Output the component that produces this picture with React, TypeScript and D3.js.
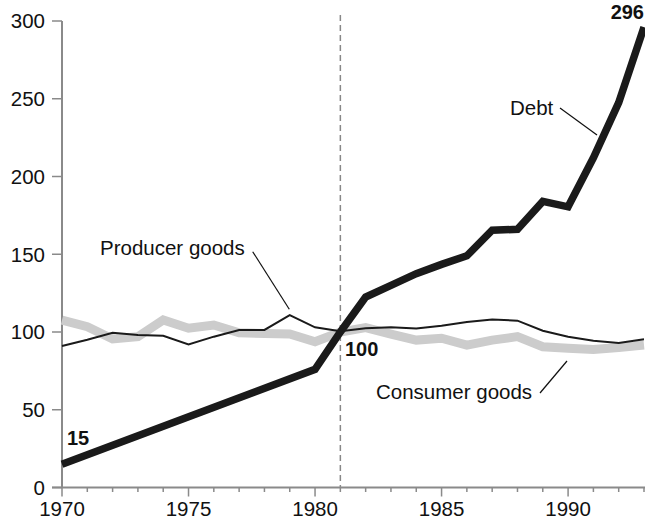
import React from "react";
import * as d3 from "d3";

const years = [1970,1971,1972,1973,1974,1975,1976,1977,1978,1979,1980,1981,1982,1983,1984,1985,1986,1987,1988,1989,1990,1991,1992,1993];
const producerGoods = [91,95,99.5,98,97.6,92,97,101.3,101.3,110.8,103,100.5,102.4,103,102.2,104,106.5,108,107.3,100.8,97,94.4,93,95.3];
const consumerGoods = [107.7,103.4,95.5,97,107.7,102.4,104.5,99.5,99,98.7,93.7,100,102.8,98.7,94.8,96,91.6,94.8,97,90.5,89.5,88.8,90,91.6];
const debtYears = [1970,1980,1981,1982,1983,1984,1985,1986,1987,1988,1989,1990,1991,1992,1993];
const debt = [15,76,100,122.5,130,137.5,143.5,149,165.5,166,184,180.5,212,247.5,296];
const yTicks = [0,50,100,150,200,250,300];
const xMajor = [1970,1975,1980,1985,1990];
const baseYear = 1981;

const W = 645, H = 522;
const x = d3.scaleLinear().domain([1970, 1993]).range([62, 644]);
const y = d3.scaleLinear().domain([0, 300]).range([487.5, 21]);
const FONT = "'Liberation Sans', Arial, Helvetica, sans-serif";

export default function App() {
  const line = d3.line<[number, number]>().x(d => x(d[0])).y(d => y(d[1]));
  const prodPath = line(years.map((yr, i) => [yr, producerGoods[i]] as [number, number]));
  const consPath = line(years.map((yr, i) => [yr, consumerGoods[i]] as [number, number]));
  const debtPath = line(debtYears.map((yr, i) => [yr, debt[i]] as [number, number]));
  const minorYears = d3.range(1970, 1994);
  const axisColor = "#8a8a8a";
  return (
    <svg width={W} height={H} style={{ position: "absolute", left: 0, top: 0, background: "#fff" }} fontFamily={FONT}>
      {/* dashed base year line */}
      <line x1={x(baseYear)} x2={x(baseYear)} y1={15} y2={y(0)} stroke="#888" strokeWidth={1.5} strokeDasharray="6,4" />
      {/* axes */}
      <line x1={x(1970)} x2={x(1970)} y1={y(300)} y2={y(0)} stroke={axisColor} strokeWidth={2} />
      <line x1={52} x2={W} y1={y(0)} y2={y(0)} stroke={axisColor} strokeWidth={2} />
      {yTicks.map(t => (
        <g key={"y" + t}>
          <line x1={52} x2={x(1970)} y1={y(t)} y2={y(t)} stroke={axisColor} strokeWidth={1.5} />
          <text x={45} y={y(t)} dy="0.36em" textAnchor="end" fontSize={20.5} fill="#111">{t}</text>
        </g>
      ))}
      {minorYears.map(yr => (
        <line key={"t" + yr} x1={x(yr)} x2={x(yr)} y1={y(0)} y2={y(0) + (xMajor.includes(yr) ? 9 : 4.5)} stroke={axisColor} strokeWidth={1.5} />
      ))}
      {xMajor.map(yr => (
        <text key={"xl" + yr} x={x(yr)} y={516} textAnchor="middle" fontSize={20.5} fill="#111">{yr}</text>
      ))}
      {/* series */}
      <path d={consPath ?? ""} fill="none" stroke="#cccccc" strokeWidth={9} strokeLinejoin="miter" />
      <path d={prodPath ?? ""} fill="none" stroke="#1a1a1a" strokeWidth={2} strokeLinejoin="miter" />
      <path d={debtPath ?? ""} fill="none" stroke="#1a1a1a" strokeWidth={7.5} strokeLinejoin="miter" />
      {/* annotations */}
      <text x={100} y={255} fontSize={20.5} fill="#111">Producer goods</text>
      <line x1={252.7} y1={251.7} x2={289.3} y2={309.3} stroke="#111" strokeWidth={1.2} />
      <text x={510} y={115} fontSize={20.5} fill="#111">Debt</text>
      <line x1={560} y1={108} x2={597} y2={135} stroke="#111" strokeWidth={1.2} />
      <text x={376} y={399} fontSize={20.5} fill="#111">Consumer goods</text>
      <line x1={540} y1={393} x2={567} y2={361} stroke="#111" strokeWidth={1.2} />
      <text x={67} y={445} fontSize={20} fontWeight="bold" fill="#111">15</text>
      <text x={345} y={356} fontSize={20} fontWeight="bold" fill="#111">100</text>
      <text x={644} y={19} textAnchor="end" fontSize={20} fontWeight="bold" fill="#111">296</text>
    </svg>
  );
}
